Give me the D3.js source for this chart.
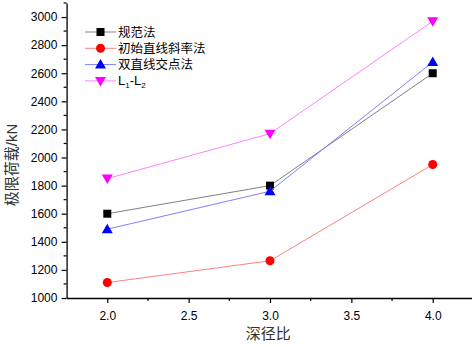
<!DOCTYPE html>
<html lang="zh">
<head>
<meta charset="UTF-8">
<script src="https://d3js.org/d3.v7.min.js"></script>
<style>
  body { margin: 0; background: #fff; }
  svg { display: block; }
</style>
</head>
<body>
<div id="chart"></div>
<script>
// data
const ratios = [2.0, 3.0, 4.0];
const guifan = [1600, 1800, 2600];
const chushi = [1110, 1265, 1950];
const shuangzhi = [1490, 1760, 2680];
const l1l2 = [1850, 2170, 2970];
const seriesNames = ["规范法", "初始直线斜率法", "双直线交点法", "L1-L2"];
const xTicks = [2.0, 2.5, 3.0, 3.5, 4.0];
const yTicks = [1000, 1200, 1400, 1600, 1800, 2000, 2200, 2400, 2600, 2800, 3000];

const w = 472, h = 347;
const cjkFont = "'Liberation Sans', 'Noto Sans CJK SC', sans-serif";
const series = [
  { name: seriesNames[0], values: guifan, line: "#808080", mark: "#000000", shape: "square" },
  { name: seriesNames[1], values: chushi, line: "#ff8080", mark: "#ff0000", shape: "circle" },
  { name: seriesNames[2], values: shuangzhi, line: "#8080ff", mark: "#0000ff", shape: "up" },
  { name: seriesNames[3], values: l1l2, line: "#ff80ff", mark: "#ff00ff", shape: "down" }
];

const xScale = d3.scaleLinear().domain([1.75, 4.25]).range([66.6, 473.4]);
const yScale = d3.scaleLinear().domain([1000, 3100]).range([298, 3]);

const svg = d3.select("#chart").append("svg")
  .attr("width", w).attr("height", h)
  .style("font-family", "'Liberation Sans', Arial, sans-serif");

// axes
const xAxis = d3.axisBottom(xScale).tickValues(xTicks).tickFormat(d3.format(".1f"))
  .tickSizeInner(5).tickSizeOuter(0);
const gx = svg.append("g").attr("transform", `translate(0,${yScale(1000)})`).call(xAxis);
gx.selectAll("text").attr("font-size", "12px").attr("fill", "#000").attr("dy", "1.2em");

const yAxis = d3.axisLeft(yScale).tickValues(yTicks).tickFormat(d3.format("d"))
  .tickSizeInner(5).tickSizeOuter(0);
const gy = svg.append("g").attr("transform", `translate(${xScale(1.75)},0)`).call(yAxis);
gy.selectAll("text").attr("font-size", "12px").attr("fill", "#000").attr("dx", "-0.1em");

[gx, gy].forEach(g => {
  g.select(".domain").attr("stroke", "#000").attr("stroke-width", 1.3);
  g.selectAll(".tick line").attr("stroke", "#000").attr("stroke-width", 1.2);
  g.attr("font-family", null);
});

// minor ticks
const xMinor = d3.range(2.25, 4.25, 0.5);
svg.append("g").selectAll("line").data(xMinor).join("line")
  .attr("x1", d => xScale(d)).attr("x2", d => xScale(d))
  .attr("y1", yScale(1000)).attr("y2", yScale(1000) + 3)
  .attr("stroke", "#000").attr("stroke-width", 1.2);
const yMinor = d3.range(1100, 3101, 200);
svg.append("g").selectAll("line").data(yMinor).join("line")
  .attr("x1", xScale(1.75)).attr("x2", xScale(1.75) - 3)
  .attr("y1", d => yScale(d)).attr("y2", d => yScale(d))
  .attr("stroke", "#000").attr("stroke-width", 1.2);

// markers
function drawMarker(g, shape, color) {
  if (shape === "square") {
    g.append("rect").attr("x", -4).attr("y", -4).attr("width", 8).attr("height", 8).attr("fill", color);
  } else if (shape === "circle") {
    g.append("circle").attr("r", 4.5).attr("fill", color);
  } else if (shape === "up") {
    g.append("path").attr("d", "M0,-5.5L5.5,4L-5.5,4Z").attr("fill", color);
  } else {
    g.append("path").attr("d", "M0,5.5L5.5,-4L-5.5,-4Z").attr("fill", color);
  }
}

const line = d3.line().x((d, i) => xScale(ratios[i])).y(d => yScale(d));

series.forEach(s => {
  svg.append("path").datum(s.values)
    .attr("fill", "none").attr("stroke", s.line).attr("stroke-width", 1)
    .attr("d", line);
  s.values.forEach((v, i) => {
    const g = svg.append("g").attr("transform", `translate(${xScale(ratios[i])},${yScale(v)})`);
    drawMarker(g, s.shape, s.mark);
  });
});

// legend
const legend = svg.append("g").attr("transform", "translate(85,32)");
series.forEach((s, i) => {
  const row = legend.append("g").attr("transform", `translate(0,${i * 16.3})`);
  row.append("line").attr("x1", 0).attr("x2", 31).attr("y1", 0).attr("y2", 0)
    .attr("stroke", s.line).attr("stroke-width", 1);
  const m = row.append("g").attr("transform", "translate(15.5,0)");
  drawMarker(m, s.shape, s.mark);
  const t = row.append("text").attr("x", 33).attr("y", 4.5)
    .attr("font-size", "12.5px").attr("fill", "#000")
    .style("font-family", cjkFont);
  if (s.name === "L1-L2") {
    t.attr("font-size", "13px");
    t.append("tspan").text("L");
    t.append("tspan").attr("font-size", "8px").attr("dy", 3).text("1");
    t.append("tspan").attr("dy", -3).text("-L");
    t.append("tspan").attr("font-size", "8px").attr("dy", 3).text("2");
  } else {
    t.text(s.name);
  }
});

// axis titles
svg.append("text")
  .attr("x", (66.6 + 470) / 2).attr("y", 339)
  .attr("text-anchor", "middle").attr("font-size", "15px").attr("fill", "#333")
  .style("font-family", cjkFont)
  .text("深径比");

svg.append("text")
  .attr("transform", "translate(17,165) rotate(-90)")
  .attr("text-anchor", "middle").attr("font-size", "15px").attr("fill", "#333")
  .style("font-family", cjkFont)
  .text("极限荷载/kN");
</script>
</body>
</html>
